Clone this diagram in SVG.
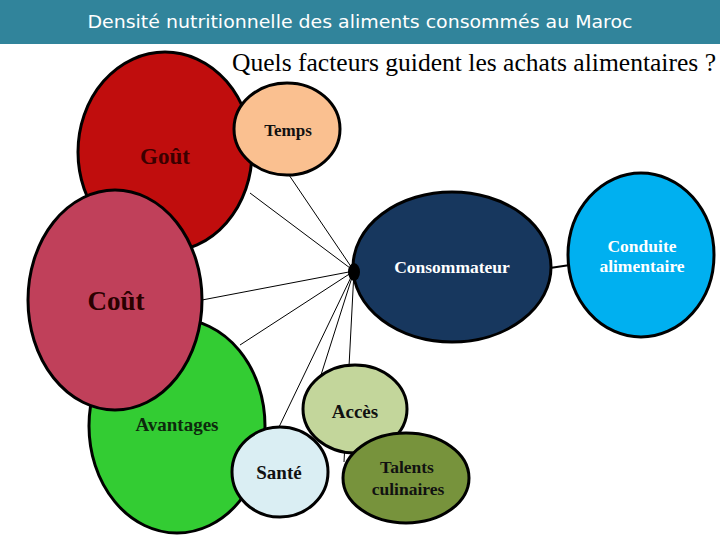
<svg xmlns="http://www.w3.org/2000/svg" width="720" height="540" viewBox="0 0 720 540">
<style>
.n{stroke:#000;stroke-width:3}
.c{stroke:#000;stroke-width:1;fill:none}
.t{font-family:"Liberation Serif",serif;font-weight:bold;text-anchor:middle}
</style>
<rect width="720" height="540" fill="#fff"/>
<g id="header">
<rect x="0" y="0" width="720" height="44" fill="#31849B"/>
<text x="360" y="28" fill="#fff" font-family="DejaVu Sans, sans-serif" font-size="17" text-anchor="middle" textLength="545" lengthAdjust="spacingAndGlyphs">Densité nutritionnelle des aliments consommés au Maroc</text>
</g>
<text id="question" x="232" y="71" font-family="Liberation Serif, serif" font-size="25" textLength="484" lengthAdjust="spacingAndGlyphs">Quels facteurs guident les achats alimentaires ?</text>
<g id="connectors">
<line class="c" x1="354" y1="271" x2="289" y2="175"/>
<line class="c" x1="354" y1="271" x2="250" y2="193"/>
<line class="c" x1="354" y1="271" x2="202" y2="300"/>
<line class="c" x1="354" y1="271" x2="240" y2="345"/>
<line class="c" x1="354" y1="271" x2="279" y2="427"/>
<line class="c" x1="354" y1="271" x2="321" y2="375"/>
<line class="c" x1="354" y1="271" x2="344" y2="462"/>
<line x1="550" y1="268" x2="570" y2="265" stroke="#000" stroke-width="2"/>
</g>
<g id="gout">
<ellipse class="n" cx="165" cy="152" rx="87" ry="100" fill="#C00D0D"/>
<text class="t" x="165" y="164" font-size="23" fill="#3a0000">Goût</text>
</g>
<g id="temps">
<ellipse class="n" cx="287" cy="129" rx="53" ry="46" fill="#FAC090"/>
<text class="t" x="288" y="136" font-size="17" fill="#111">Temps</text>
</g>
<g id="avantages">
<ellipse class="n" cx="177" cy="426" rx="88" ry="107" fill="#33CC33"/>
<text class="t" x="177" y="431" font-size="19" fill="#0d2a0d">Avantages</text>
</g>
<g id="cout">
<ellipse class="n" cx="115" cy="300" rx="87" ry="110" fill="#C0405A"/>
<text class="t" x="116" y="310" font-size="27" fill="#2a0000">Coût</text>
</g>
<g id="sante">
<ellipse class="n" cx="280" cy="472" rx="48" ry="45" fill="#DAEEF3"/>
<text class="t" x="279" y="479" font-size="19" fill="#111">Santé</text>
</g>
<g id="consommateur">
<ellipse class="n" cx="452" cy="267" rx="99" ry="75" fill="#17375E"/>
<text class="t" x="452" y="273" font-size="17.5" fill="#fff">Consommateur</text>
</g>
<ellipse id="hub" cx="354" cy="272" rx="6" ry="9" fill="#000"/>
<g id="conduite">
<ellipse class="n" cx="641" cy="255" rx="73" ry="82" fill="#00B0F0"/>
<text class="t" x="642" y="252" font-size="17.5" fill="#fff">Conduite</text>
<text class="t" x="642" y="272" font-size="17.5" fill="#fff">alimentaire</text>
</g>
<g id="acces">
<ellipse class="n" cx="355" cy="409" rx="52" ry="44" fill="#C3D69B"/>
<text class="t" x="355" y="418" font-size="19" fill="#111">Accès</text>
</g>
<g id="talents">
<ellipse class="n" cx="406" cy="478" rx="63" ry="45" fill="#77933C"/>
<text class="t" x="407" y="473" font-size="17.5" fill="#111">Talents</text>
<text class="t" x="408" y="495" font-size="17.5" fill="#111">culinaires</text>
</g>
</svg>
